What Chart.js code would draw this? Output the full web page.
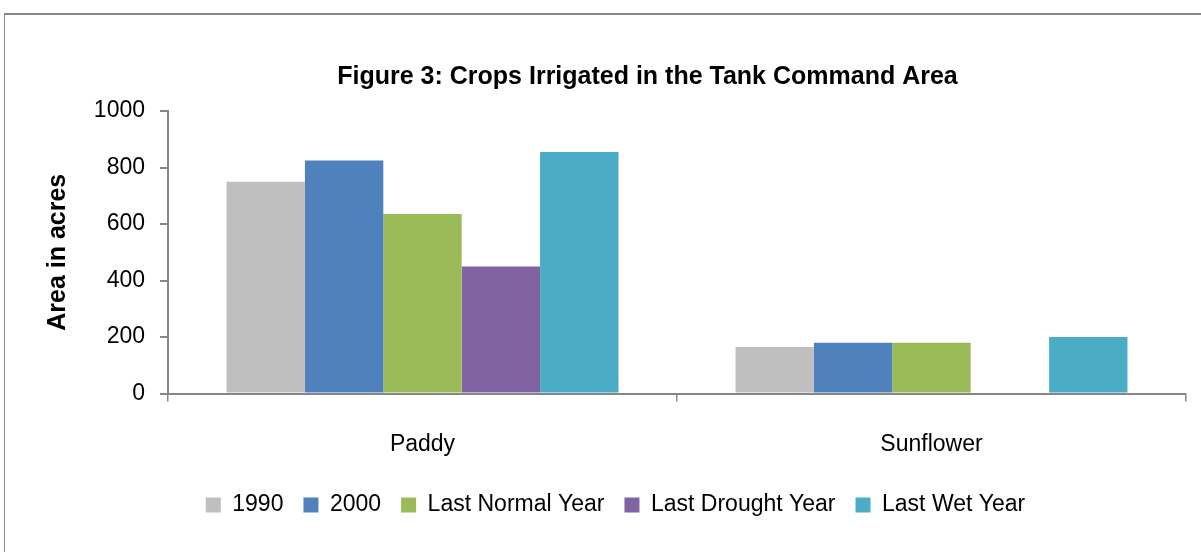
<!DOCTYPE html>
<html lang="en">
<head>
  <meta charset="UTF-8" />
  <title>Crops Irrigated in the Tank Command Area</title>
  <script src="https://cdn.jsdelivr.net/npm/chart.js"></script>
  <style>
    html, body {
      margin: 0;
      padding: 0;
      background: #fff;
      overflow: hidden;
      width: 1201px;
      height: 552px;
    }

    .frame {
      position: absolute;
      left: 4px;
      top: 13px;
      width: 1400px;
      height: 700px;
      border-top: 2px solid #878787;
      border-left: 1px solid #8c8c8c;
    }

    canvas {
      display: block;
    }
  </style>
</head>
<body>
  <div class="frame">
    <canvas id="cropChart" width="1196" height="537"></canvas>
  </div>

  <script>
    const crops = ['Paddy', 'Sunflower'];
    const seriesNames = ['1990', '2000', 'Last Normal Year', 'Last Drought Year', 'Last Wet Year'];
    const acres1990 = [750, 165];
    const acres2000 = [825, 180];
    const acresNormal = [635, 180];
    const acresDrought = [450, 0];
    const acresWet = [855, 200];
    const yTicks = [0, 200, 400, 600, 800, 1000];

    const colors = ['#bfbfbf', '#4f81bd', '#9bbb59', '#8064a2', '#4bacc6'];
    const axisGrey = '#868686';
    const fontFamily = "'Liberation Sans', Arial, sans-serif";

    // title and legend are not centred on the canvas in the original layout
    const boxShift = {
      id: 'boxShift',
      afterLayout(chart, args, opts) {
        chart.titleBlock.left += opts.title;
        chart.titleBlock.right += opts.title;
        chart.legend.left += opts.legend;
        chart.legend.right += opts.legend;
      }
    };

    const values = [acres1990, acres2000, acresNormal, acresDrought, acresWet];

    new Chart(document.getElementById('cropChart'), {
      type: 'bar',
      data: {
        labels: crops,
        datasets: seriesNames.map((name, i) => ({
          label: name,
          data: values[i],
          backgroundColor: colors[i],
          borderWidth: 0,
          categoryPercentage: 0.77,
          barPercentage: 1.0
        }))
      },
      options: {
        responsive: false,
        animation: false,
        layout: {
          padding: { left: 0, right: 15, top: 0, bottom: 25.5 }
        },
        scales: {
          x: {
            afterFit(scale) { scale.height = 80; },
            grid: {
              offset: true,
              drawOnChartArea: false,
              drawTicks: true,
              tickLength: 8,
              tickColor: axisGrey,
              lineWidth: 1.5
            },
            border: { display: true, color: axisGrey, width: 2 },
            ticks: {
              color: '#000',
              padding: 29,
              font: { family: fontFamily, size: 23 }
            }
          },
          y: {
            min: 0,
            max: 1000,
            afterFit(scale) { scale.width = 163; },
            afterBuildTicks(scale) {
              scale.ticks = yTicks.map(v => ({ value: v }));
            },
            grid: {
              drawOnChartArea: false,
              drawTicks: true,
              tickLength: 8,
              tickColor: axisGrey,
              lineWidth: 2
            },
            border: { display: true, color: axisGrey, width: 2 },
            ticks: {
              color: '#000',
              padding: 15,
              font: { family: fontFamily, size: 23 },
              callback: v => String(v)
            },
            title: {
              display: true,
              text: 'Area in acres',
              color: '#000',
              padding: { top: 38, bottom: 0 },
              font: { family: fontFamily, size: 25, weight: 'bold' }
            }
          }
        },
        plugins: {
          boxShift: { title: 52, legend: 20 },
          title: {
            display: true,
            text: 'Figure 3: Crops Irrigated in the Tank Command Area',
            color: '#000',
            padding: { top: 47, bottom: 19 },
            font: { family: fontFamily, size: 25, weight: 'bold', lineHeight: 1.2 }
          },
          legend: {
            position: 'bottom',
            labels: {
              color: '#000',
              boxWidth: 15,
              boxHeight: 15,
              padding: 20,
              font: { family: fontFamily, size: 23 }
            }
          },
          tooltip: { enabled: false }
        }
      },
      plugins: [boxShift]
    });
  </script>
</body>
</html>
